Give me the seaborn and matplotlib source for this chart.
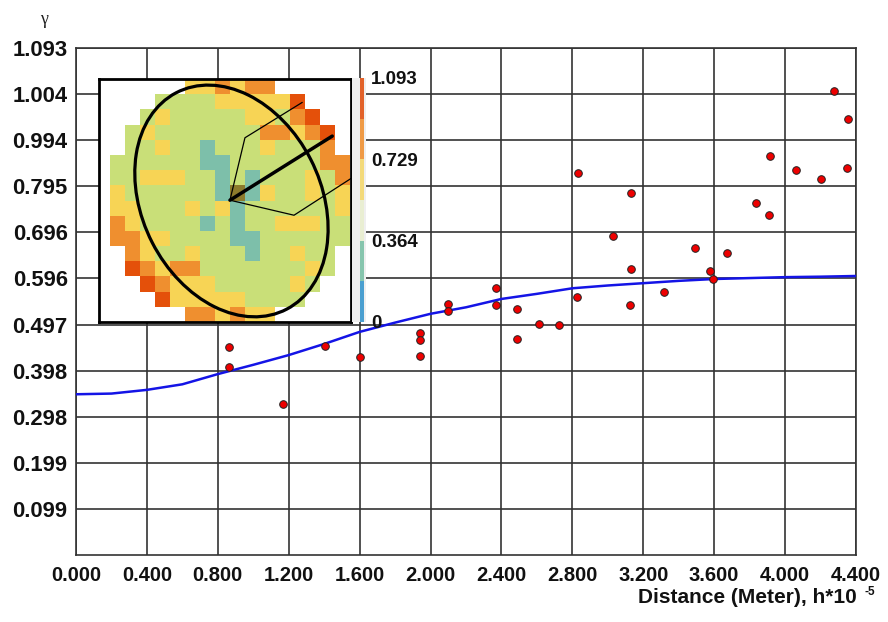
import numpy as np
import matplotlib
matplotlib.use("Agg")
import matplotlib.pyplot as plt
from matplotlib.colors import ListedColormap, BoundaryNorm
from matplotlib.patches import Ellipse
import matplotlib.colorbar as mcolorbar
import seaborn as sns

# ---------------- data ----------------
pts_x = [0.865, 0.865, 1.166, 1.405, 1.602, 1.940, 1.940, 1.940, 2.100, 2.100,
         2.369, 2.369, 2.490, 2.490, 2.612, 2.725, 2.828, 2.832, 3.031, 3.133,
         3.133, 3.127, 3.317, 3.490, 3.576, 3.591, 3.670, 3.838, 3.911, 3.913,
         4.062, 4.204, 4.349, 4.353, 4.278]
pts_y = [0.448, 0.405, 0.326, 0.451, 0.426, 0.479, 0.463, 0.428, 0.542, 0.526,
         0.576, 0.539, 0.530, 0.465, 0.498, 0.495, 0.556, 0.824, 0.687, 0.781,
         0.617, 0.540, 0.567, 0.662, 0.612, 0.594, 0.650, 0.758, 0.732, 0.860,
         0.829, 0.810, 0.834, 0.939, 1.001]

model_x = [0.0, 0.2, 0.4, 0.6, 0.8, 1.0, 1.2, 1.4, 1.6, 1.8, 2.0, 2.2,
           2.4, 2.6, 2.8, 3.0, 3.2, 3.4, 3.6, 3.8, 4.0, 4.2, 4.4]
model_y = [0.3465, 0.348, 0.356, 0.368, 0.390, 0.410, 0.431, 0.455, 0.481,
           0.501, 0.520, 0.534, 0.552, 0.563, 0.575, 0.581, 0.586, 0.591,
           0.595, 0.597, 0.599, 0.600, 0.6015]

x_ticks = [0.0, 0.4, 0.8, 1.2, 1.6, 2.0, 2.4, 2.8, 3.2, 3.6, 4.0, 4.4]
x_labels = ["0.000", "0.400", "0.800", "1.200", "1.600", "2.000", "2.400",
            "2.800", "3.200", "3.600", "4.000", "4.400"]
y_max = 1.093
y_labels = ["0.099", "0.199", "0.298", "0.398", "0.497", "0.596", "0.696",
            "0.795", "0.994", "1.004", "1.093"]

# map of the variogram surface (W = empty, T teal, G green, Y yellow,
# O orange, R red, B centre cell)
map_rows = [
    "......YYOYOO.....",
    "....GGGGYYYYYR...",
    "...GYGGGGGYYGOR..",
    "..GYGGGGGGGOOYOR.",
    "..GGYGGTGGGYGGGO.",
    ".GGGGGGTTGGGGGGOO",
    ".GGYYYGGTGTGGGYGO",
    ".YGGGGGGTBTYGGYGY",
    ".YYGGGYGYTGGGGGGY",
    ".OYGGGGTGTGGYYYGG",
    ".OOYYGGGGTTGGGGGG",
    "..OYGGYGGGTGGYGG.",
    "..ROYOOGGGGGGGYG.",
    "...ROYYYGGGGGYG..",
    "....RYYYYYGGGG...",
    "......OOYOYY.....",
]
map_codes = {"T": 1, "G": 2, "Y": 3, "O": 4, "R": 5, "B": 6}
map_colors = ["#3f98cf", "#7dbfaa", "#c9df78", "#f7d455", "#ef8f2f",
              "#e4500a", "#8c7a2c"]

cbar_bounds = [0.0, 0.182, 0.364, 0.546, 0.729, 0.911, 1.093]
cbar_colors = ["#4a9fd0", "#86c5ad", "#e9eed2", "#f3da7a", "#ef9a45", "#e2622a"]
cbar_ticks = [0.0, 0.364, 0.729, 1.093]
cbar_labels = ["0", "0.364", "0.729", "1.093"]

# anisotropy ellipse and search directions (in map cell units)
ell_center = (9.1, 8.03)
ell_width, ell_height, ell_angle = 16.04, 11.9, 62.6
main_dir_x = [9.0, 15.82]
main_dir_y = [7.98, 3.76]
cone_x = [13.82, 10.0, 9.0, 13.27, 17.07]
cone_y = [1.54, 3.87, 7.98, 8.97, 6.55]

# ---------------- style ----------------
sns.set_theme(style="white")
plt.rcParams["font.family"] = ["Liberation Sans", "DejaVu Sans"]
grid_c = "#333333"

W, H = 888, 622
fig = plt.figure(figsize=(W / 100, H / 100), dpi=100)
fig.patch.set_facecolor("white")

ax = fig.add_axes([76 / W, 1 - 555 / H, 780 / W, 507 / H])
ax.set_facecolor("white")

sns.lineplot(x=model_x, y=model_y, ax=ax, color="#1414e6", lw=1.8,
             zorder=3, sort=True)
sns.scatterplot(x=pts_x, y=pts_y, ax=ax, color="#ee0000", edgecolor="#222222",
                linewidth=0.7, s=30, zorder=4)

ax.set_xlim(0, 4.4)
ax.set_ylim(0, y_max)
ax.set_xticks(x_ticks)
ax.set_xticklabels(x_labels)
y_ticks = [y_max * (i + 1) / len(y_labels) for i in range(len(y_labels))]
ax.set_yticks(y_ticks)
ax.set_yticklabels(y_labels)
ax.tick_params(axis="both", length=0)
ax.tick_params(axis="x", pad=8, labelsize=14.5)
ax.tick_params(axis="y", pad=6, labelsize=15.8)
for lab in ax.get_xticklabels() + ax.get_yticklabels():
    lab.set_fontweight("bold")
    lab.set_color("#111111")
ax.grid(True, color=grid_c, lw=1.2)
for s in ax.spines.values():
    s.set_visible(True)
    s.set_color(grid_c)
    s.set_linewidth(1.2)
ax.set_xlabel("")
ax.set_ylabel("")

fig.text(857 / W, 1 - 603 / H, "Distance (Meter), h*10", ha="right",
         va="baseline", fontsize=15, fontweight="bold", color="#111111")
fig.text(864 / W, 1 - 592 / H, "-5", ha="left", va="center", fontsize=8.5,
         fontweight="bold", color="#111111")
fig.text(44 / W, 1 - 19 / H, "γ", ha="center", va="center", fontsize=13,
         family=["Liberation Serif", "DejaVu Serif"], color="#222222")

# ---------------- inset map ----------------
grid = np.array([[map_codes.get(c, np.nan) for c in row] for row in map_rows],
                dtype=float)
axins = fig.add_axes([99 / W, 1 - 322 / H, 252 / W, 243 / H])
axins.set_facecolor("white")
sns.heatmap(grid, ax=axins, cmap=ListedColormap(map_colors), vmin=-0.5,
            vmax=6.5, cbar=False, xticklabels=False, yticklabels=False)
axins.set_xlim(0.27, 17.07)
axins.set_ylim(16, 0)
for s in axins.spines.values():
    s.set_visible(True)
    s.set_color("black")
    s.set_linewidth(2)
axins.add_patch(Ellipse(ell_center, ell_width, ell_height, angle=ell_angle,
                        fill=False, lw=2.3, color="black"))
axins.plot(main_dir_x, main_dir_y, color="black", lw=2.5)
axins.plot(cone_x, cone_y, color="black", lw=0.9)

# ---------------- colour bar ----------------
bg = fig.add_axes([352 / W, 1 - 322 / H, 14 / W, 244 / H])
bg.set_facecolor("#efefef")
bg.set_xticks([])
bg.set_yticks([])
for s in bg.spines.values():
    s.set_visible(False)

cax = fig.add_axes([360 / W, 1 - 322 / H, 4 / W, 244 / H])
cb = mcolorbar.ColorbarBase(cax, cmap=ListedColormap(cbar_colors),
                            norm=BoundaryNorm(cbar_bounds, len(cbar_colors)),
                            orientation="vertical")
cb.outline.set_visible(False)
cb.set_ticks(cbar_ticks)
cb.set_ticklabels(cbar_labels)
cax.minorticks_off()
cax.tick_params(which="both", length=0, pad=5, labelsize=13.5)
for lab in cax.get_yticklabels():
    lab.set_fontweight("bold")
    lab.set_color("#111111")

fig.savefig("out.png", dpi=100)
